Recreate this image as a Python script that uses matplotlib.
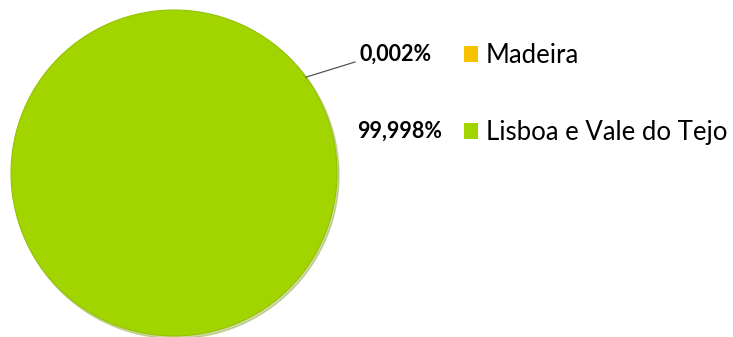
import numpy as np
import matplotlib.pyplot as plt
from matplotlib.patches import Circle

regions = ['Madeira', 'Lisboa e Vale do Tejo']
shares = [0.002, 99.998]
colors = ['#F7C200', '#A2D400']

plt.rcParams['font.family'] = ['Lato', 'DejaVu Sans']

fig = plt.figure(figsize=(7.33, 3.37), dpi=100)
ax = fig.add_axes([0, 0, 1, 1])

cx, cy, r = 174, 164, 163

# soft shadow under the pie
ax.add_patch(Circle((cx + 1.5, cy - 2), r + 0.5, color='#7a9a10', alpha=0.35, zorder=0))

wedges, _ = ax.pie(shares, colors=colors, startangle=36, center=(cx, cy), radius=r,
                   wedgeprops=dict(linewidth=0), frame=True)
ax.add_patch(Circle((cx, cy), r, fill=False, edgecolor='#95C400', lw=0.8, zorder=3))
ax.set_xlim(0, 733)
ax.set_ylim(0, 337)
ax.set_aspect('equal')
ax.axis('off')

def fmt(v):
    return ('%.3f%%' % v).replace('.', ',')

# label for the tiny slice with a leader line
w = wedges[0]
ang = np.deg2rad((w.theta1 + w.theta2) / 2)
ex, ey = cx + r * np.cos(ang), cy + r * np.sin(ang)
ax.plot([ex, 355], [ey, 275], color='#555555', lw=0.9, zorder=4)
ax.text(359, 283, fmt(shares[0]), fontsize=15.5, fontweight='bold', va='center', ha='left')
ax.text(357, 206, fmt(shares[1]), fontsize=15.5, fontweight='bold', va='center', ha='left')

leg = ax.legend(wedges, regions, loc='upper left', bbox_to_anchor=(464 / 733, 1 - 43 / 337),
                frameon=False, fontsize=18.5, labelspacing=2.02, handlelength=0.55,
                handleheight=0.55, handletextpad=0.3, borderaxespad=0, borderpad=0)

fig.savefig('out.png', dpi=100)
